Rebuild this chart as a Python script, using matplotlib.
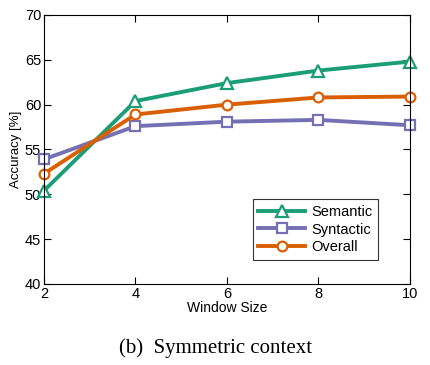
import numpy as np
import matplotlib
matplotlib.use('Agg')
import matplotlib.pyplot as plt

#%% data
window = [2, 4, 6, 8, 10]
semantic = [50.4, 60.4, 62.4, 63.8, 64.8]
syntactic = [53.9, 57.6, 58.1, 58.3, 57.7]
overall = [52.3, 58.9, 60.0, 60.8, 60.9]

xticks = [2, 4, 6, 8, 10]
yticks = [40, 45, 50, 55, 60, 65, 70]

#%% plot
plt.rcParams['font.family'] = ['Liberation Sans', 'DejaVu Sans']

fig = plt.figure(figsize=(4.31, 3.65), dpi=100)
ax = fig.add_axes([0.102, 0.222, 0.849, 0.737])

ax.plot(window, semantic, color='#1b9e77', lw=2.8, marker='^', ms=8,
        mfc='white', mec='#1b9e77', mew=1.6, label='Semantic', clip_on=False)
ax.plot(window, syntactic, color='#7570b3', lw=2.8, marker='s', ms=6.5,
        mfc='white', mec='#7570b3', mew=1.6, label='Syntactic', clip_on=False)
ax.plot(window, overall, color='#d95f02', lw=2.8, marker='o', ms=7,
        mfc='white', mec='#d95f02', mew=1.6, label='Overall', clip_on=False)

ax.set_xlim(2, 10)
ax.set_ylim(40, 70)
ax.set_xticks(xticks)
ax.set_yticks(yticks)
ax.tick_params(direction='in', top=True, right=True, labelsize=10.5, pad=2, length=5)
ax.set_xlabel('Window Size', fontsize=10, labelpad=0)
ax.set_ylabel('Accuracy [%]', fontsize=9.5, labelpad=2)
for s in ax.spines.values():
    s.set_linewidth(0.8)

leg = ax.legend(loc='lower right', bbox_to_anchor=(0.913, 0.089), fontsize=10.5,
                frameon=True, fancybox=False, edgecolor='black', handlelength=3.2,
                borderpad=0.4, labelspacing=0.25, handletextpad=0.4, borderaxespad=0)
leg.get_frame().set_linewidth(0.8)

fig.text(0.5, 0.045, '(b)  Symmetric context', ha='center', va='center',
         fontsize=15, family=['Liberation Serif', 'DejaVu Serif'])

fig.savefig('out.png', dpi=100)
